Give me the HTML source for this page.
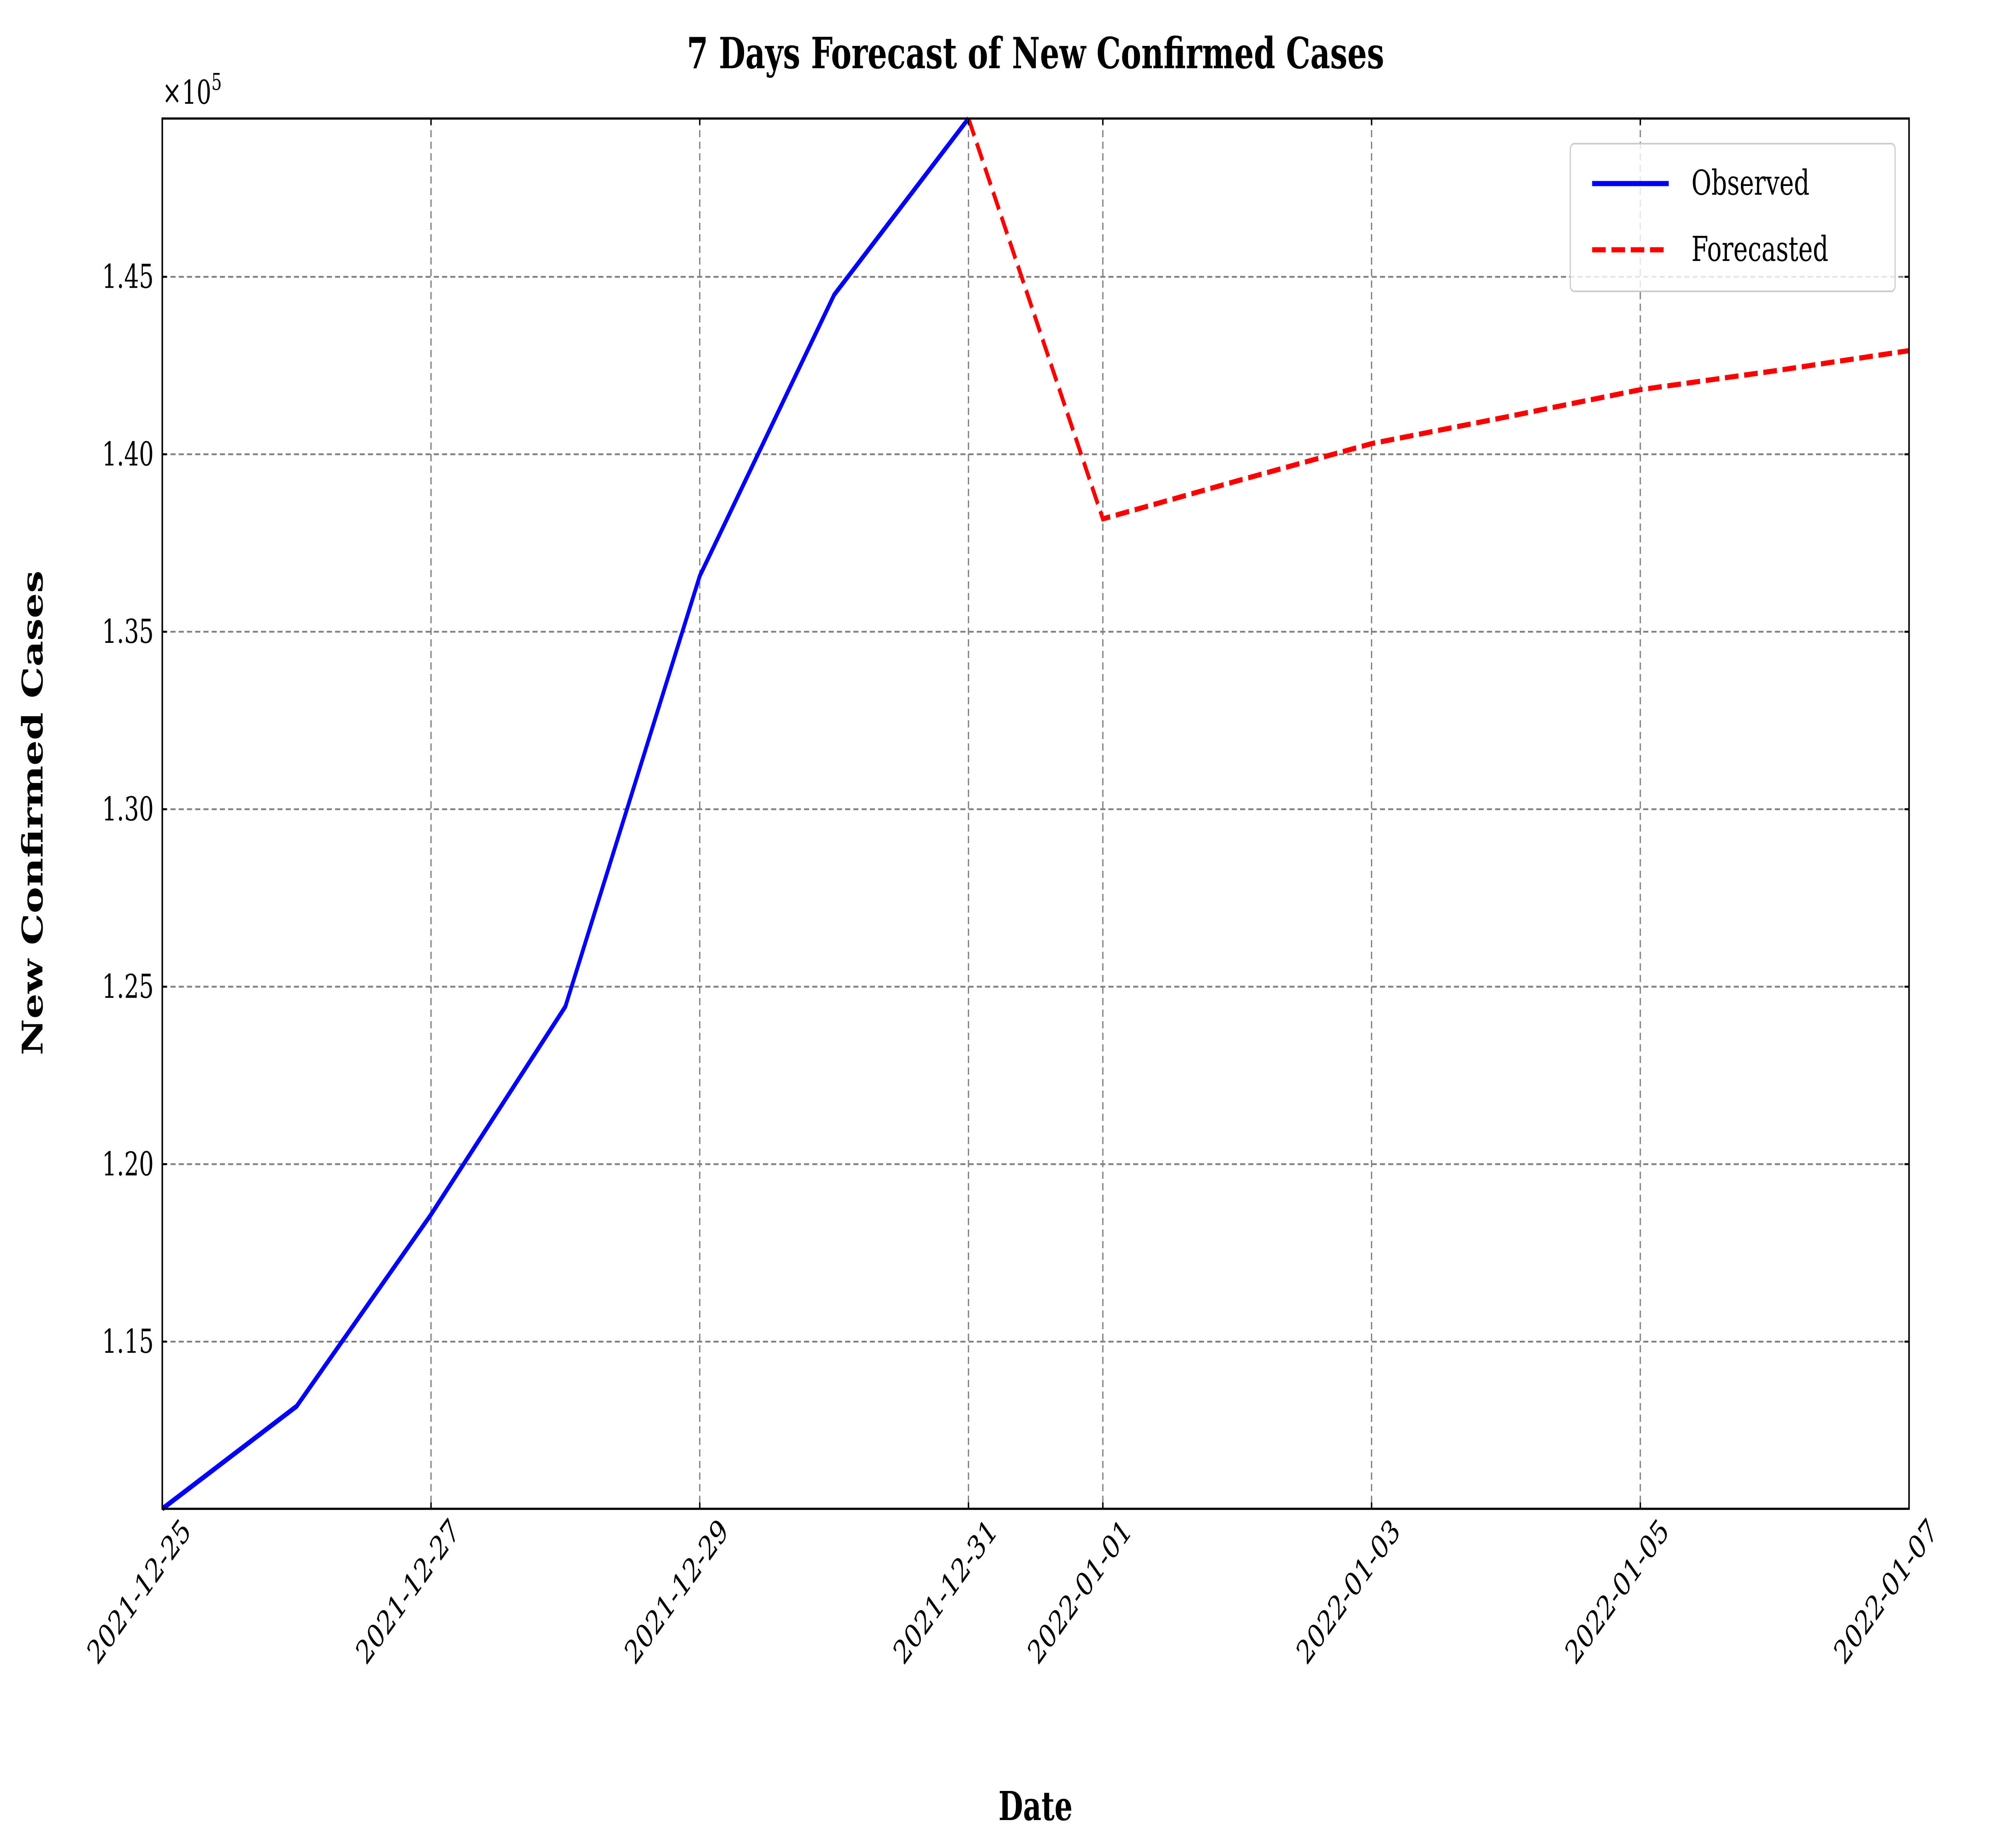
<!DOCTYPE html>
<html><head><meta charset="utf-8"><style>
html,body{margin:0;padding:0;background:#fff;overflow:hidden;width:100vw;height:100vh;}
svg{display:block;width:100vw;height:100vh;font-family:"DejaVu Serif","Liberation Serif",serif;}
</style></head><body>
<svg id="chart" viewBox="0 0 7032 4631" preserveAspectRatio="none" xmlns="http://www.w3.org/2000/svg">
<rect width="7032" height="4631" fill="#fff"/>
<g id="grid"></g>
<g id="series"></g>
<g id="axes"></g>
<text x="3650" y="171" text-anchor="middle" font-size="108" font-weight="bold">7 Days Forecast of New Confirmed Cases</text>
<text x="0" y="0" transform="translate(150,2037) rotate(-90)" text-anchor="middle" font-size="100" font-weight="bold">New Confirmed Cases</text>
<text x="3650" y="4561" text-anchor="middle" font-size="100" font-weight="bold">Date</text>
<text x="572" y="260" font-size="82">×10<tspan dy="-35" font-size="58">5</tspan></text>
<g>
<rect x="5535" y="360" width="1145" height="370" fill="#fff" fill-opacity="0.8" stroke="#ccc" stroke-width="4" rx="14"/>
<line x1="5612" y1="460" x2="5882" y2="460" stroke="#0000ff" stroke-width="13"/>
<text x="5962" y="488" font-size="86">Observed</text>
<line x1="5612" y1="626" x2="5882" y2="626" stroke="#ff0000" stroke-width="13" stroke-dasharray="48,20"/>
<text x="5962" y="654" font-size="86">Forecasted</text>
</g>
</svg>
<script>
const obsDays = [0,1,2,3,4,5,6];
const obsValues = [110290,113180,118580,124440,136570,144490,149460];
const fcDays = [6,7,8,9,10,11,12,13];
const fcValues = [149460,138180,139250,140300,141050,141820,142350,142920];
const yTicks = [115000,120000,125000,130000,135000,140000,145000];
const yTickLabels = ["1.15","1.20","1.25","1.30","1.35","1.40","1.45"];
const xTicks = [0,2,4,6,7,9,11,13];
const xTickLabels = ["2021-12-25","2021-12-27","2021-12-29","2021-12-31","2022-01-01","2022-01-03","2022-01-05","2022-01-07"];

const L=572,R=6729,T=297,B=3781;
const yMin=110290,yMax=149460,xMin=0,xMax=13;
const sx=d=>L+(d-xMin)/(xMax-xMin)*(R-L);
const sy=v=>B-(v-yMin)/(yMax-yMin)*(B-T);
const NS="http://www.w3.org/2000/svg";
function mk(tag,attrs,parent){const e=document.createElementNS(NS,tag);for(const k in attrs)e.setAttribute(k,attrs[k]);parent.appendChild(e);return e;}
const grid=document.getElementById('grid'),series=document.getElementById('series'),axes=document.getElementById('axes');

yTicks.forEach((v,i)=>{
  const y=sy(v);
  const g=mk('line',{x1:L,x2:R,y1:y,y2:y,stroke:'#808080','stroke-width':4.5,'stroke-dasharray':'18,11'},grid);
  
  
  const t=mk('line',{x1:L,x2:L+16,y1:y,y2:y,stroke:'#000','stroke-width':5},axes);
  
  
  const t2=mk('line',{x1:R,x2:R-16,y1:y,y2:y,stroke:'#000','stroke-width':5},axes);
  
  
  const lb=mk('text',{x:L-30,y:y+28,'text-anchor':'end','font-size':82},axes);
  lb.textContent=yTickLabels[i];
  
  
});
xTicks.forEach((d,i)=>{
  const x=sx(d);
  const g=mk('line',{x1:x,x2:x,y1:T,y2:B,stroke:'#808080','stroke-width':4.5,'stroke-dasharray':'18,11'},grid);
  
  
  const t=mk('line',{x1:x,x2:x,y1:B,y2:B-16,stroke:'#000','stroke-width':5},axes);
  
  
  const t2=mk('line',{x1:x,x2:x,y1:T,y2:T+16,stroke:'#000','stroke-width':5},axes);
  
  
  const lb=mk('text',{x:0,y:0,'text-anchor':'end','font-size':82,transform:`translate(${x+105},${B+60}) rotate(-45)`},axes);
  lb.textContent=xTickLabels[i];
  
  
});
const obs=mk('polyline',{points:obsDays.map((d,i)=>sx(d)+','+sy(obsValues[i])).join(' '),fill:'none',stroke:'#0000ff','stroke-width':13,'stroke-linejoin':'round'},series);


const fc=mk('polyline',{points:fcDays.map((d,i)=>sx(d)+','+sy(fcValues[i])).join(' '),fill:'none',stroke:'#ff0000','stroke-width':13,'stroke-dasharray':'48,20'},series);


const frame=mk('rect',{x:L,y:T,width:R-L,height:B-T,fill:'none',stroke:'#000','stroke-width':5.5},axes);


</script>
</body></html>
